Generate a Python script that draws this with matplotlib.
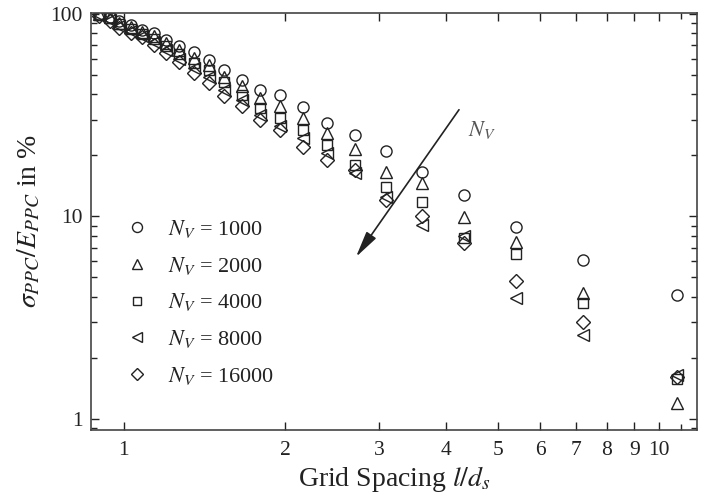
import matplotlib
matplotlib.use("Agg")
import matplotlib.pyplot as plt
from matplotlib.ticker import LogLocator, FixedLocator, FixedFormatter, NullFormatter

# Grid spacing l/d_s (one column of points per grid)
grid_spacing = [10.8, 7.2, 5.4, 4.32, 3.6, 3.09, 2.7, 2.4, 2.16, 1.96, 1.8, 1.66,
                1.54, 1.44, 1.35, 1.27, 1.2, 1.14, 1.08, 1.03, 0.98, 0.94, 0.9]

# sigma_PPC / E_PPC in % for every N_V
nv_1000 = [4.09, 6.06, 8.87, 12.8, 16.6, 20.9, 25.3, 29.0, 34.6, 39.8, 42.1, 47.2,
           52.5, 59.3, 65.0, 69.0, 74.5, 80.0, 83.5, 88.0, 92.0, 97.0, 100.0]
nv_2000 = [1.19, 4.17, 7.44, 9.9, 14.6, 16.6, 21.5, 25.8, 30.5, 34.9, 38.3, 43.8,
           49.0, 56.0, 60.5, 66.0, 71.5, 77.5, 81.5, 86.0, 90.5, 96.0, 99.5]
nv_4000 = [1.57, 3.71, 6.55, 7.8, 11.8, 14.0, 17.9, 22.5, 26.7, 30.5, 34.2, 39.8,
           46.3, 52.9, 57.0, 63.0, 69.0, 75.0, 79.5, 84.0, 89.0, 95.0, 99.0]
nv_8000 = [1.65, 2.60, 3.97, 7.95, 9.1, 12.5, 16.3, 20.5, 24.3, 27.8, 31.7, 37.6,
           42.1, 48.5, 54.0, 60.0, 66.5, 72.5, 78.0, 82.0, 87.0, 93.5, 98.5]
nv_16000 = [1.61, 3.01, 4.78, 7.37, 10.0, 12.1, 17.0, 18.9, 22.1, 26.7, 30.0, 34.9,
            39.1, 45.5, 51.0, 57.5, 64.0, 70.5, 76.5, 80.0, 85.5, 92.0, 98.0]

series = [nv_1000, nv_2000, nv_4000, nv_8000, nv_16000]
labels = [r"$N_V$ = 1000", r"$N_V$ = 2000", r"$N_V$ = 4000",
          r"$N_V$ = 8000", r"$N_V$ = 16000"]
markers = ["o", "^", "s", "<", "D"]
msizes = [8, 8.5, 7, 8.5, 7]

x_ticks = [1, 2, 3, 4, 5, 6, 7, 8, 9, 10]
y_ticks = [1, 10, 100]

plt.rcParams["font.family"] = ["Liberation Serif", "DejaVu Serif"]
plt.rcParams["mathtext.fontset"] = "stix"

ink = "#222222"
fig = plt.figure(figsize=(7.04, 4.98), dpi=100)
ax = fig.add_axes([0.1293, 0.1365, 0.8607, 0.8375])

for ys, lab, m, ms in zip(series, labels, markers, msizes):
    ax.plot(grid_spacing, ys, linestyle="none", marker=m, markersize=ms,
            markerfacecolor="none", markeredgecolor=ink, markeredgewidth=1.0,
            label=lab)

ax.set_xscale("log")
ax.set_yscale("log")
ax.set_xlim(0.868, 11.78)
ax.set_ylim(0.88, 101)

ax.xaxis.set_major_locator(FixedLocator(x_ticks))
ax.xaxis.set_major_formatter(FixedFormatter([str(t) for t in x_ticks]))
ax.xaxis.set_minor_locator(FixedLocator([11]))
ax.xaxis.set_minor_formatter(NullFormatter())
ax.yaxis.set_major_locator(FixedLocator(y_ticks))
ax.yaxis.set_major_formatter(FixedFormatter([str(t) for t in y_ticks]))
ax.yaxis.set_minor_locator(LogLocator(base=10, subs=range(2, 10)))
ax.yaxis.set_minor_formatter(NullFormatter())

ax.tick_params(which="both", direction="in", top=True, right=True,
               colors=ink, labelsize=15.5, width=1.0)
ax.tick_params(which="major", length=6)
ax.tick_params(which="minor", length=4)
ax.tick_params(axis="x", which="major", pad=8)
ax.tick_params(axis="y", which="major", pad=6)
for s in ax.spines.values():
    s.set_color("#444444")
    s.set_linewidth(1.2)

ax.set_xlabel(r"Grid Spacing $l/d_s$", fontsize=20, color=ink, labelpad=3)
ax.set_ylabel(r"$\sigma_{PPC}/E_{PPC}$ in %", fontsize=20, color=ink, labelpad=6)

# arrow showing increasing N_V
ax.annotate("", xy=(2.715, 6.3), xytext=(4.23, 33.6),
            arrowprops=dict(arrowstyle="-|>,head_length=1.0,head_width=0.22",
                            color=ink, lw=1.2, mutation_scale=16,
                            shrinkA=0, shrinkB=0))
ax.text(4.40, 26.7, r"$N_V$", fontsize=16, color="#555555", va="center", ha="left")

ax.legend(loc="upper left", bbox_to_anchor=(0.0578, 0.508), frameon=False,
          fontsize=16, borderpad=0, borderaxespad=0, handlelength=1.0,
          handletextpad=0.9, labelspacing=0.66, labelcolor=ink, markerscale=0.9)

fig.savefig("out.png", dpi=100)
